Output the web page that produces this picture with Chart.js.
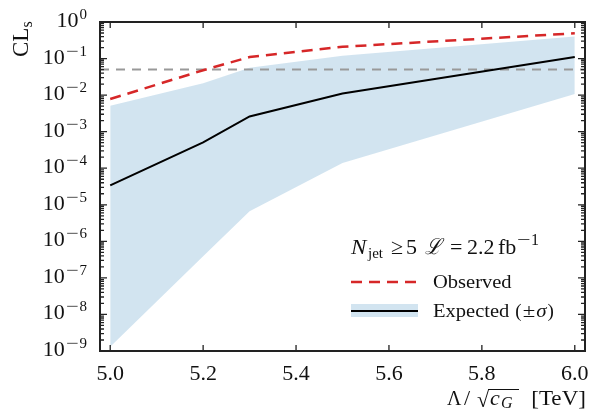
<!DOCTYPE html>
<html>
<head>
<meta charset="utf-8">
<script src="https://cdn.jsdelivr.net/npm/chart.js@4.4.1/dist/chart.umd.min.js"></script>
<style>
  html, body { margin: 0; padding: 0; background: #fff; }
  #wrap { width: 590px; height: 411px; }
</style>
</head>
<body>
<div id="wrap"><canvas id="chart" width="590" height="411"></canvas></div>
<script>
// ---- data ----
const massPoints = [5.0, 5.2, 5.3, 5.5, 6.0];          // Lambda / sqrt(c_G) [TeV]
const observedCLs = [7.8e-3, 0.048, 0.11, 0.21, 0.49];
const expectedCLs = [3.4e-5, 5.1e-4, 2.6e-3, 1.1e-2, 0.11];
const expectedUp = [5.1e-3, 0.021, 0.056, 0.12, 0.40];   // +sigma
const expectedDown = [1.3e-9, 3.9e-7, 6.6e-6, 1.4e-4, 1.07e-2]; // -sigma
const clsLimit = 0.05;

const xTicks = [5.0, 5.2, 5.4, 5.6, 5.8, 6.0];
const yTickExps = [0, -1, -2, -3, -4, -5, -6, -7, -8, -9];
const xMin = 4.978, xMax = 6.022;

const SERIF = '"Liberation Serif", "DejaVu Serif", serif';
const toPts = (ys) => massPoints.map((x, i) => ({ x: x, y: ys[i] }));

// text with a horizontal stretch (the original font is wider than Times)
function txt(ctx, s, x, y, font, sx) {
    sx = sx || 1;
    ctx.font = font;
    ctx.save();
    ctx.translate(x, y);
    ctx.scale(sx, 1);
    ctx.fillText(s, 0, 0);
    ctx.restore();
    return ctx.measureText(s).width * sx;
}
function txtWidth(ctx, s, font, sx) {
    ctx.font = font;
    return ctx.measureText(s).width * (sx || 1);
}

// draws the frame, inward ticks, labels and legend (mpl style)
const decorations = {
    id: 'decorations',
    afterDraw(chart) {
        const { ctx, chartArea: a, scales } = chart;
        const xs = scales.x, ys = scales.y;
        ctx.save();

        // ticks
        ctx.strokeStyle = '#222';
        ctx.lineWidth = 1.3;
        ctx.beginPath();
        xTicks.forEach(v => {
            const px = xs.getPixelForValue(v);
            ctx.moveTo(px, a.bottom); ctx.lineTo(px, a.bottom - 6);
            ctx.moveTo(px, a.top); ctx.lineTo(px, a.top + 6);
        });
        yTickExps.forEach(e => {
            const py = ys.getPixelForValue(Math.pow(10, e));
            ctx.moveTo(a.left, py); ctx.lineTo(a.left + 7, py);
            ctx.moveTo(a.right, py); ctx.lineTo(a.right - 7, py);
            if (e < 0) {
                for (let m = 2; m <= 9; m++) {
                    const pm = ys.getPixelForValue(m * Math.pow(10, e));
                    ctx.moveTo(a.left, pm); ctx.lineTo(a.left + 4, pm);
                    ctx.moveTo(a.right, pm); ctx.lineTo(a.right - 4, pm);
                }
            }
        });
        ctx.stroke();

        // frame
        ctx.lineWidth = 2;
        ctx.strokeRect(a.left, a.top, a.right - a.left, a.bottom - a.top);

        ctx.fillStyle = '#111';
        ctx.textBaseline = 'alphabetic';
        ctx.textAlign = 'left';

        // x tick labels
        xTicks.forEach(v => {
            const s = v.toFixed(1);
            const w = txtWidth(ctx, s, '22px ' + SERIF);
            txt(ctx, s, xs.getPixelForValue(v) - w / 2, a.bottom + 29, '22px ' + SERIF);
        });

        // y tick labels 10^e
        const supFont = '15px ' + SERIF;
        yTickExps.forEach(e => {
            const py = ys.getPixelForValue(Math.pow(10, e));
            const digit = String(Math.abs(e));
            const wd = txtWidth(ctx, digit, supFont);
            const wm = e < 0 ? txtWidth(ctx, '\u2212', supFont, 1.5) + 1 : 0;
            const right = 87;
            const supStart = right - wd - wm;
            const wb = txtWidth(ctx, '10', '22px ' + SERIF);
            txt(ctx, '10', supStart - wb - 1, py + 5, '22px ' + SERIF);
            if (e < 0) txt(ctx, '\u2212', supStart, py - 3, supFont, 1.5);
            txt(ctx, digit, right - wd, py - 3, supFont);
        });

        // y title CL_s
        ctx.save();
        ctx.translate(28, 57);
        ctx.rotate(-Math.PI / 2);
        const wcl = txt(ctx, 'CL', 0, 0, '23px ' + SERIF);
        txt(ctx, 's', wcl, 4, '16px ' + SERIF);
        ctx.restore();

        // x title  Λ/√c_G  [TeV]
        {
            const base = 405;
            txt(ctx, '\u039B', 447, base, '22px ' + SERIF, 0.9);
            txt(ctx, '/', 464, base, '22px ' + SERIF);
            txt(ctx, '\u221A', 477, base + 2, '22px ' + SERIF);
            txt(ctx, 'c', 490, base, 'italic 22px ' + SERIF);
            txt(ctx, 'G', 501, base + 3, 'italic 16px ' + SERIF);
            ctx.lineWidth = 1;
            ctx.strokeStyle = '#111';
            ctx.beginPath();
            ctx.moveTo(488, 389.5);
            ctx.lineTo(519, 389.5);
            ctx.stroke();
            const wt = txtWidth(ctx, '[TeV]', '22px ' + SERIF, 1.05);
            txt(ctx, '[TeV]', 586 - wt, base, '22px ' + SERIF, 1.05);
        }

        // legend
        {
            const base = 254;
            const big = '22px ' + SERIF;
            txt(ctx, 'N', 351, base, 'italic ' + big, 1.05);
            txt(ctx, 'jet', 368, base + 4, '15px ' + SERIF);
            txt(ctx, '\u2265', 391, base, big);
            txt(ctx, '5', 406, base, big);
            txt(ctx, '\u2112', 425, base, 'italic ' + big, 0.9);
            txt(ctx, '=', 450, base, big);
            txt(ctx, '2.2', 467, base, big);
            txt(ctx, 'fb', 498, base, big);
            txt(ctx, '\u2212', 517, base - 9, '16px ' + SERIF, 1.5);
            txt(ctx, '1', 531, base - 9, '16px ' + SERIF);

            // observed entry
            ctx.strokeStyle = '#d62728';
            ctx.lineWidth = 2.5;
            ctx.setLineDash([11, 7]);
            ctx.beginPath();
            ctx.moveTo(351, 282); ctx.lineTo(418, 282);
            ctx.stroke();
            ctx.setLineDash([]);
            const lf = '19px ' + SERIF;
            txt(ctx, 'Observed', 433, 288, lf, 1.08);

            // expected entry
            ctx.fillStyle = 'rgba(31,119,180,0.2)';
            ctx.fillRect(351, 304, 67, 13);
            ctx.strokeStyle = '#000';
            ctx.lineWidth = 2;
            ctx.beginPath();
            ctx.moveTo(351, 311); ctx.lineTo(418, 311);
            ctx.stroke();
            ctx.fillStyle = '#111';
            let x = 433;
            x += txt(ctx, 'Expected', x, 317, lf, 1.08) + 6;
            x += txt(ctx, '(', x, 317, lf) + 1;
            x += txt(ctx, '\u00B1', x, 317, lf, 1.2) + 1;
            x += txt(ctx, '\u03C3', x, 317, 'italic ' + lf, 1.1) + 1;
            txt(ctx, ')', x, 317, lf);
        }

        ctx.restore();
    }
};

new Chart(document.getElementById('chart'), {
    type: 'line',
    data: {
        datasets: [
            {
                label: '-sigma',
                data: toPts(expectedDown),
                borderWidth: 0,
                pointRadius: 0,
                fill: false,
                order: 5
            },
            {
                label: '+sigma',
                data: toPts(expectedUp),
                borderWidth: 0,
                pointRadius: 0,
                backgroundColor: 'rgba(31,119,180,0.2)',
                fill: '-1',
                order: 4
            },
            {
                label: 'CLs = 0.05',
                data: [{ x: xMin, y: clsLimit }, { x: xMax, y: clsLimit }],
                borderColor: '#999',
                borderWidth: 2,
                borderDash: [9, 7],
                pointRadius: 0,
                fill: false,
                order: 3
            },
            {
                label: 'Expected',
                data: toPts(expectedCLs),
                borderColor: '#000',
                borderWidth: 2,
                pointRadius: 0,
                fill: false,
                order: 2
            },
            {
                label: 'Observed',
                data: toPts(observedCLs),
                borderColor: '#d62728',
                borderWidth: 2.5,
                borderDash: [11, 7],
                pointRadius: 0,
                fill: false,
                order: 1
            }
        ]
    },
    options: {
        responsive: false,
        animation: false,
        layout: { padding: { left: 100, right: 5, top: 22, bottom: 60 } },
        plugins: {
            legend: { display: false },
            tooltip: { enabled: false }
        },
        scales: {
            x: { type: 'linear', min: xMin, max: xMax, display: false },
            y: { type: 'logarithmic', min: 1e-9, max: 1, display: false }
        }
    },
    plugins: [decorations]
});
</script>
</body>
</html>
